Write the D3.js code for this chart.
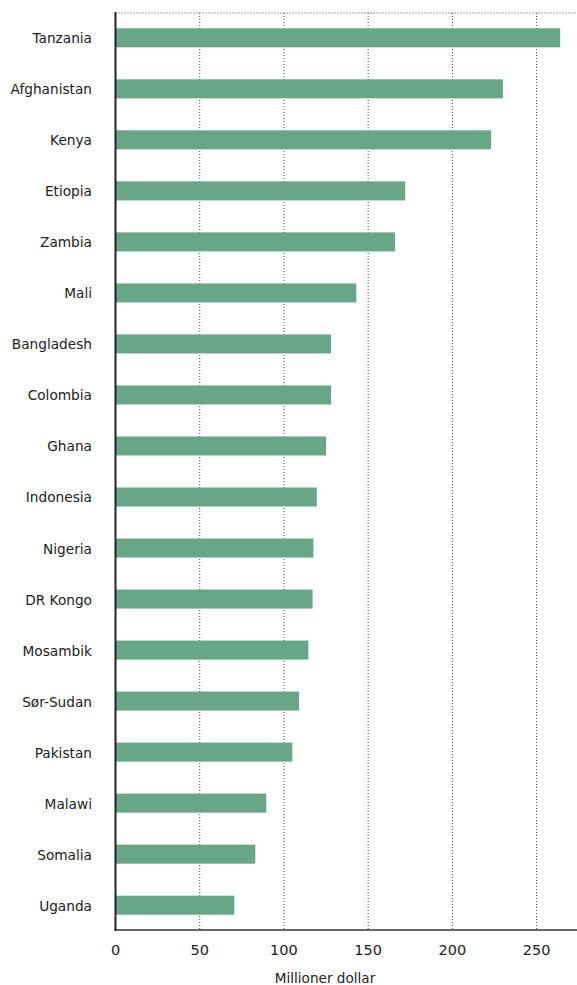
<!DOCTYPE html>
<html>
<head>
<meta charset="utf-8">
<script src="https://cdn.jsdelivr.net/npm/d3@7"></script>
<style>
  body { margin: 0; background: #fff; }
  text { font-family: "DejaVu Sans", "Liberation Sans", Arial, sans-serif; fill: #222; }
</style>
</head>
<body>
<div id="chart"></div>
<script>
// countries, top to bottom
const countries = ["Tanzania", "Afghanistan", "Kenya", "Etiopia", "Zambia", "Mali",
  "Bangladesh", "Colombia", "Ghana", "Indonesia", "Nigeria", "DR Kongo",
  "Mosambik", "Sør-Sudan", "Pakistan", "Malawi", "Somalia", "Uganda"];
// million dollars
const values = [264, 230, 223, 172, 166, 143, 128, 128, 125, 119.5, 117.5, 117,
  114.5, 109, 105, 89.5, 83, 70.5];
const ticks = [0, 50, 100, 150, 200, 250];
const axisTitle = "Millioner dollar";

const width = 577, height = 985;
const margin = { top: 13, right: 0, bottom: 55, left: 115.5 };

const svg = d3.select("#chart").append("svg")
  .attr("width", width)
  .attr("height", height);

const axisY = height - margin.bottom;

const x = d3.scaleLinear()
  .domain([0, 250])
  .range([margin.left, 536.6]);

const y = d3.scaleBand()
  .domain(countries)
  .range([margin.top, axisY])
  .paddingInner(0.627)
  .paddingOuter(0.3);

// dotted gridlines
svg.append("g")
  .selectAll("line")
  .data(ticks.filter(d => d > 0))
  .join("line")
  .attr("x1", d => x(d)).attr("x2", d => x(d))
  .attr("y1", margin.top).attr("y2", axisY)
  .attr("stroke", "#444")
  .attr("stroke-width", 1)
  .attr("stroke-dasharray", "1,2");

// top dotted line
svg.append("line")
  .attr("x1", margin.left).attr("x2", width)
  .attr("y1", margin.top).attr("y2", margin.top)
  .attr("stroke", "#444")
  .attr("stroke-dasharray", "1,2");

// bars
svg.append("g")
  .selectAll("rect")
  .data(countries)
  .join("rect")
  .attr("x", x(0))
  .attr("y", d => y(d))
  .attr("width", (d, i) => x(values[i]) - x(0))
  .attr("height", y.bandwidth())
  .attr("fill", "#68a688");

// y labels
svg.append("g")
  .selectAll("text")
  .data(countries)
  .join("text")
  .attr("x", 92)
  .attr("y", d => y(d) + y.bandwidth() / 2)
  .attr("dy", "0.4em")
  .attr("text-anchor", "end")
  .attr("font-size", 13.7)
  .text(d => d);

// axis lines
svg.append("line")
  .attr("x1", margin.left).attr("x2", margin.left)
  .attr("y1", margin.top - 1).attr("y2", axisY + 1)
  .attr("stroke", "#222")
  .attr("stroke-width", 2);

svg.append("line")
  .attr("x1", margin.left - 1).attr("x2", width)
  .attr("y1", axisY).attr("y2", axisY)
  .attr("stroke", "#333")
  .attr("stroke-width", 1.5);

// x tick labels
svg.append("g")
  .selectAll("text")
  .data(ticks)
  .join("text")
  .attr("x", d => x(d))
  .attr("y", axisY + 20)
  .attr("dy", "0.35em")
  .attr("text-anchor", "middle")
  .attr("font-size", 14.5)
  .text(d => d);

// axis title
svg.append("text")
  .attr("x", 325)
  .attr("y", 978)
  .attr("dy", "0.35em")
  .attr("text-anchor", "middle")
  .attr("font-size", 13.6)
  .text(axisTitle);
</script>
</body>
</html>
